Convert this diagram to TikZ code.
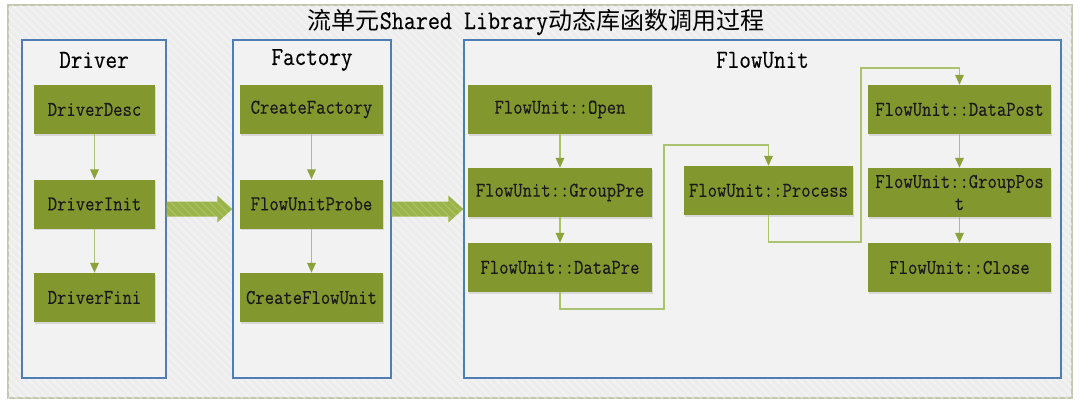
\documentclass[tikz,border=0pt]{standalone}
\usepackage{fontspec}
\usetikzlibrary{calc,shadows,arrows.meta,patterns.meta}
\newfontfamily\nodefont{Latin Modern Mono}[FakeStretch=0.865,FakeBold=0.3]
\newfontfamily\cjkfont{Noto Sans CJK SC}
\definecolor{olivebox}{HTML}{83972F}
\definecolor{oliveline}{HTML}{ABC270}
\definecolor{olivetip}{HTML}{8CA23A}
\definecolor{bigarrowc}{HTML}{9BB449}
\definecolor{panelblue}{HTML}{4F7DB5}
\definecolor{panelfill}{HTML}{F2F2F2}
\definecolor{outerfill}{HTML}{EDEDED}
\definecolor{outerline}{HTML}{C3C7B1}
\tikzset{
  panel/.style={draw=panelblue, line width=1.3pt, fill=panelfill, inner sep=0pt},
  stepbox/.style={fill=olivebox, inner sep=0pt, align=center,
    font=\nodefont\fontsize{21}{22}\selectfont, text=black!90,
    drop shadow={opacity=0.22, shadow xshift=1.2pt, shadow yshift=-1.8pt}},
  paneltitle/.style={font=\nodefont\fontsize{26}{26}\selectfont, inner sep=0pt},
  conn/.style={draw=oliveline, line width=1.6pt,
    -{Triangle[length=10pt,width=8.5pt,fill=olivetip,color=olivetip]}},
  bigarrow/.style={fill=bigarrowc},
  hatch/.style={pattern={Lines[angle=-45,distance=5.5pt,line width=1.6pt]}, pattern color=white, opacity=0.35},
  ahatch/.style={pattern={Lines[angle=-45,distance=5.5pt,line width=1.2pt]}, pattern color=white, opacity=0.15}
}
\begin{document}
\begin{tikzpicture}[x=1pt,y=-1pt]
\useasboundingbox (0,0) rectangle (1080,405);
% outer background
\fill[white] (0,0) rectangle (1080,405);
\draw[outerline, line width=1.6pt, fill=outerfill] (8,5) rectangle (1072,398);
\fill[hatch] (8,5) rectangle (1072,398);
% title
\node[inner sep=0pt] (title) at (536,22)
  {{\cjkfont\fontsize{24}{28}\selectfont 流单元}{\nodefont\fontsize{27}{30}\selectfont Shared Library}{\cjkfont\fontsize{24}{28}\selectfont 动态库函数调用过程}};
% panels
\node[panel, minimum width=144pt, minimum height=338pt] (drv) at (94,209) {};
\node[panel, minimum width=158pt, minimum height=338pt] (fac) at (312,209) {};
\node[panel, minimum width=597pt, minimum height=338pt] (flu) at (762.5,209) {};
\node[paneltitle] (drvt) at (94,60) {Driver};
\node[paneltitle] (fact) at (312,60) {Factory};
\node[paneltitle] (flut) at (762.5,60) {FlowUnit};
% driver nodes
\node[stepbox, minimum width=121pt, minimum height=49pt] (ddesc) at (94.5,109.5) {DriverDesc};
\node[stepbox, minimum width=121pt, minimum height=49pt] (dinit) at (94.5,204) {DriverInit};
\node[stepbox, minimum width=121pt, minimum height=49pt] (dfini) at (94.5,297.5) {DriverFini};
% factory nodes
\node[stepbox, minimum width=143pt, minimum height=49pt] (cfac) at (311.5,109.5) {CreateFactory};
\node[stepbox, minimum width=143pt, minimum height=49pt] (fprobe) at (311.5,204) {FlowUnitProbe};
\node[stepbox, minimum width=143pt, minimum height=49pt] (cflow) at (311.5,297.5) {CreateFlowUnit};
% flowunit nodes
\node[stepbox, minimum width=184pt, minimum height=49pt] (fopen) at (560,109.5) {FlowUnit::Open};
\node[stepbox, minimum width=184pt, minimum height=49pt] (gpre) at (560,192.5) {FlowUnit::GroupPre};
\node[stepbox, minimum width=184pt, minimum height=49pt] (dpre) at (560,267.5) {FlowUnit::DataPre};
\node[stepbox, minimum width=169pt, minimum height=49pt] (proc) at (768.5,190.5) {FlowUnit::Process};
\node[stepbox, minimum width=183pt, minimum height=49pt] (dpost) at (959.5,109.5) {FlowUnit::DataPost};
\node[stepbox, minimum width=183pt, minimum height=49pt] (gpost) at (959.5,192.5) {FlowUnit::GroupPos\\t};
\node[stepbox, minimum width=183pt, minimum height=49pt] (fclose) at (959.5,267.5) {FlowUnit::Close};
% connectors
\draw[conn] (ddesc) -- (dinit);
\draw[conn] (dinit) -- (dfini);
\draw[conn] (cfac) -- (fprobe);
\draw[conn] (fprobe) -- (cflow);
\draw[conn] (fopen) -- (gpre);
\draw[conn] (gpre) -- (dpre);
\draw[conn] (dpost) -- (gpost);
\draw[conn] (gpost) -- (fclose);
\coordinate (k1) at (664,309);
\coordinate (k2) at (664,145);
\coordinate (k3) at (861,242);
\coordinate (k4) at (861,68);
\draw[conn] (dpre.south) |- (k1) -- (k2) -| (proc.north);
\draw[conn] (proc.south) |- (k3) -- (k4) -| (dpost.north);
% big arrows
\foreach \a/\b in {drv/fac, fac/flu} {
  \path[bigarrow] ($(\a.east)+(0,-7.5)$) -- ($(\b.west)+(-15,-7.5)$) -- ($(\b.west)+(-15,-13.5)$)
     -- (\b.west) -- ($(\b.west)+(-15,13.5)$) -- ($(\b.west)+(-15,7.5)$) -- ($(\a.east)+(0,7.5)$) -- cycle;
  \fill[ahatch] ($(\a.east)+(0,-7.5)$) -- ($(\b.west)+(-15,-7.5)$) -- ($(\b.west)+(-15,-13.5)$)
     -- (\b.west) -- ($(\b.west)+(-15,13.5)$) -- ($(\b.west)+(-15,7.5)$) -- ($(\a.east)+(0,7.5)$) -- cycle;
}
\end{tikzpicture}
\end{document}
